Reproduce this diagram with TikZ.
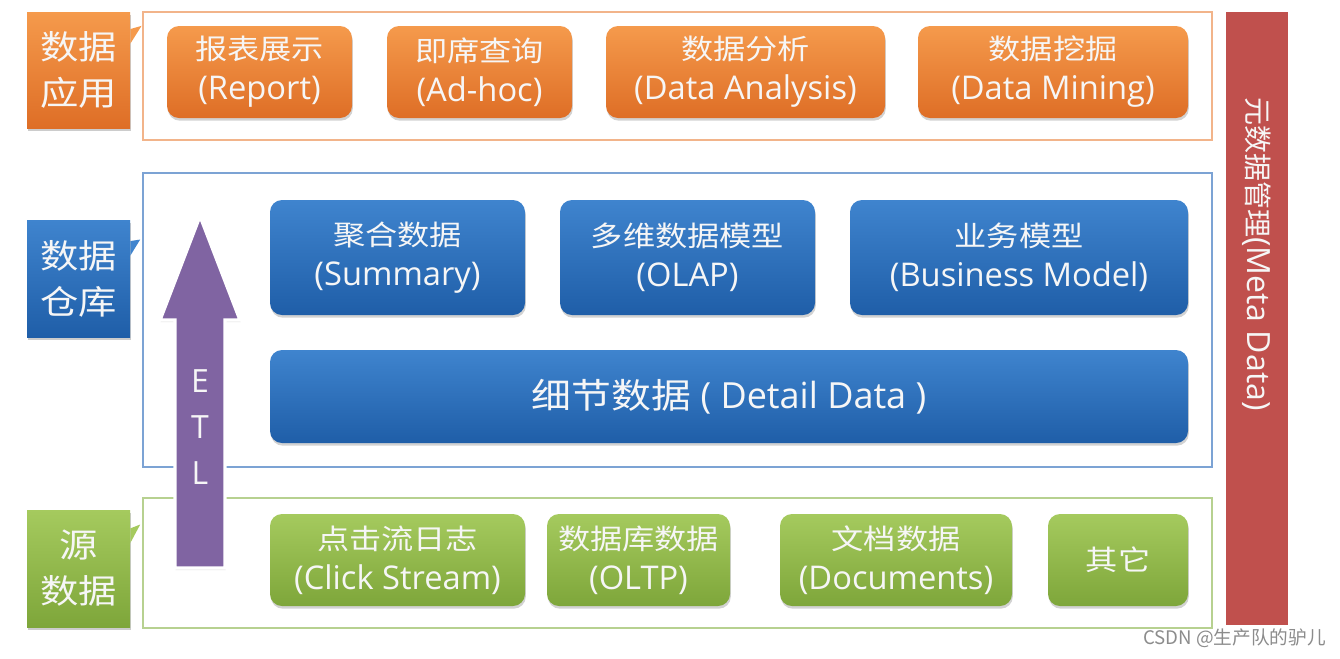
\documentclass[tikz,border=0pt]{standalone}
\usepackage{fontspec}
\setmainfont{Open Sans}
\newfontfamily\cjk{Noto Sans CJK SC}[FakeStretch=1.15]
\newfontfamily\cjkplain{Noto Sans CJK SC}
\usetikzlibrary{shadows}
\definecolor{AppTop}{HTML}{F59A4C}
\definecolor{AppBot}{HTML}{DE6E26}
\definecolor{AppLine}{HTML}{F2B48A}
\definecolor{WhTop}{HTML}{3F84CE}
\definecolor{WhBot}{HTML}{1F5EA8}
\definecolor{WhLine}{HTML}{7CA3D4}
\definecolor{SrcTop}{HTML}{A5CA5E}
\definecolor{SrcBot}{HTML}{7EA63A}
\definecolor{SrcLine}{HTML}{B7D190}
\definecolor{MetaRed}{HTML}{C0504D}
\definecolor{EtlPurple}{HTML}{8064A2}
\definecolor{SoftWhite}{HTML}{F6F6F6}
\newcommand\zh[1]{{\cjk\fontsize{21}{30}\selectfont #1}}
\tikzset{
  card/.style={rounded corners=9pt,inner sep=0pt,align=center,text=SoftWhite,
    font=\fontsize{24.5}{30}\selectfont,
    drop shadow={shadow xshift=0.6pt,shadow yshift=-2pt,opacity=0.35}},
  appcard/.style={card,top color=AppTop,bottom color=AppBot,minimum height=69pt},
  whcard/.style={card,top color=WhTop,bottom color=WhBot,minimum height=86.25pt},
  srccard/.style={card,top color=SrcTop,bottom color=SrcBot,minimum height=69pt},
  frame/.style={draw,line width=2.2pt,minimum width=801.75pt,inner sep=0pt},
  layertag/.style={inner sep=0pt,align=center,text=SoftWhite,minimum width=77.25pt,
    font=\cjk\fontsize{25}{34.5}\selectfont,
    drop shadow={shadow xshift=0.8pt,shadow yshift=-2pt,opacity=0.4}},
}
\begin{document}
\begin{tikzpicture}[x=0.75pt,y=-0.75pt]
\useasboundingbox[fill=white] (0,0) rectangle (1340,658);

% layer frames
\node[frame,draw=AppLine,minimum height=96pt] (appframe) at (677.5,76) {};
\node[frame,draw=WhLine,minimum height=220.5pt] (whframe) at (677.5,320) {};
\node[frame,draw=SrcLine,minimum height=97.5pt] (srcframe) at (677.5,563) {};

% layer tags
\node[layertag,top color=AppTop,bottom color=AppBot,minimum height=87pt] (apptag) at (78.5,70) {数据\\应用};
\node[layertag,top color=WhTop,bottom color=WhBot,minimum height=87.75pt] (whtag) at (78.5,278.5) {数据\\仓库};
\node[layertag,top color=SrcTop,bottom color=SrcBot,minimum height=87.75pt] (srctag) at (78.5,568.5) {源\\数据};
\fill[AppTop] ([yshift=-13pt]apptag.north east) -- ([yshift=-11.5pt]appframe.north west) -- ([yshift=-24pt]apptag.north east) -- cycle;
\fill[WhTop] ([yshift=-16pt]whtag.north east) -- ([xshift=-1pt,yshift=-51pt]whframe.north west) -- ([yshift=-27pt]whtag.north east) -- cycle;
\fill[SrcTop] ([yshift=-14pt]srctag.north east) -- ([xshift=-1pt,yshift=-21pt]srcframe.north west) -- ([yshift=-25pt]srctag.north east) -- cycle;

% application layer
\node[appcard,minimum width=138.75pt] (report) at (259.5,72) {\zh{报表展示}\\(Report)};
\node[appcard,minimum width=138.75pt] (adhoc) at (479.5,72) {\zh{即席查询}\\(Ad-hoc)};
\node[appcard,minimum width=209.25pt] (analysis) at (745.5,72) {\zh{数据分析}\\(Data Analysis)};
\node[appcard,minimum width=202.5pt] (mining) at (1053,72) {\zh{数据挖掘}\\(Data Mining)};

% warehouse layer
\node[whcard,minimum width=191.25pt] (summary) at (397.5,257.5) {\zh{聚合数据}\\(Summary)};
\node[whcard,minimum width=191.25pt] (olap) at (687.5,257.5) {\zh{多维数据模型}\\(OLAP)};
\node[whcard,minimum width=253.5pt] (business) at (1019,257.5) {\zh{业务模型}\\(Business Model)};
\node[card,top color=WhTop,bottom color=WhBot,minimum width=688.5pt,minimum height=69.75pt,
  font=\fontsize{27}{32}\selectfont] (detail) at (729,396.5)
  {{\cjk\fontsize{26}{32}\selectfont 细节数据} ( Detail Data )};

% source layer
\node[srccard,minimum width=191.25pt] (click) at (397.5,560) {\zh{点击流日志}\\(Click Stream)};
\node[srccard,minimum width=137.25pt] (oltp) at (638.5,560) {\zh{数据库数据}\\(OLTP)};
\node[srccard,minimum width=174pt] (docs) at (896,560) {\zh{文档数据}\\(Documents)};
\node[srccard,minimum width=105pt] (other) at (1118,560) {\zh{其它}};

% ETL arrow
\filldraw[EtlPurple,draw=white,line width=2.5pt,
  drop shadow={shadow xshift=0.5pt,shadow yshift=-1.5pt,opacity=0.25}]
  (175,568) -- (175,320) -- (160,320) -- (200,216) -- (240,320) -- (225,320) -- (225,568) -- cycle;
\node[text=SoftWhite,align=center,font=\fontsize{24}{34.5}\selectfont] (etl) at (200,427) {E\\T\\L};

% metadata bar
\node[fill=MetaRed,minimum width=46.5pt,minimum height=459.75pt,inner sep=0pt] (meta) at (1257,318.5) {};
\node[rotate=-90,text=SoftWhite,inner sep=0pt,font=\fontsize{24}{28}\selectfont] (metatext) at (1257,254)
  {{\cjkplain\fontsize{21}{28}\selectfont 元数据管理}(Meta Data)};

% watermark
\node[anchor=east,text=black!45,inner sep=0pt,font=\cjkplain\fontsize{14}{16}\selectfont] (mark) at (1326,638) {CSDN @生产队的驴儿};
\end{tikzpicture}
\end{document}
